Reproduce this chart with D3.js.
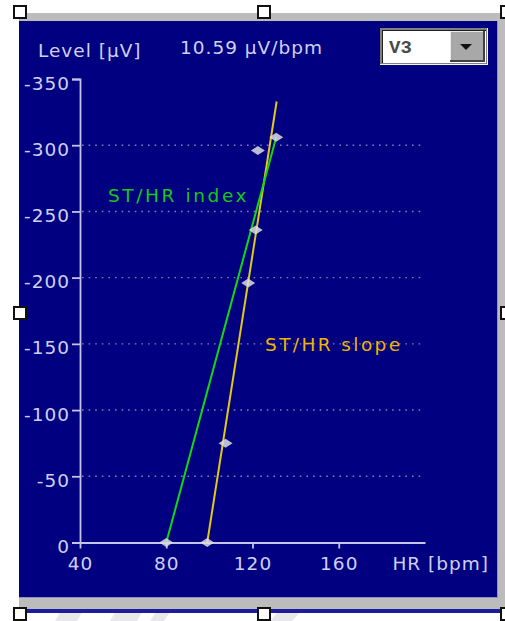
<!DOCTYPE html>
<html>
<head>
<meta charset="utf-8">
<script src="https://cdn.jsdelivr.net/npm/d3@7"></script>
<style>
  html, body { margin: 0; padding: 0; background: #ffffff; }
  svg { display: block; }
</style>
</head>
<body>
<svg id="chart" width="505" height="621"></svg>
<script>
// ---- data ----
const hrPoints    = [80, 99, 107.5, 118, 121.5, 122.5, 131];
const levelPoints = [0, 0, -75, -196, -236, -296, -306];
const indexLineHR    = [80, 131];
const indexLineLevel = [0, -306];
const slopeLineHR    = [99, 131.2];
const slopeLineLevel = [0, -333];
const yTicks = [0, -50, -100, -150, -200, -250, -300, -350];
const gridLevels = [-50, -100, -150, -200, -250, -300];
const xTicks = [40, 80, 120, 160];
const slopeText = "10.59 µV/bpm";
const leadOption = "V3";

const svg = d3.select("#chart");
const sans = "'DejaVu Sans', sans-serif";

// watermark-like faint strokes in white margin
const wm = svg.append("g").attr("fill", "#e8e8e8");
[[10, 575, 18, 607], [55, 607, 85, 621], [110, 607, 145, 621], [150, 609, 172, 621], [270, 612, 300, 621]].forEach(([x0, y0, x1, y1]) => {
  wm.append("path").attr("d", `M${x0},${y1} L${x0 + 8},${y0} L${x1},${y0} L${x1 - 8},${y1} Z`);
});

// frame
svg.append("rect").attr("x", 19).attr("y", 13).attr("width", 486).attr("height", 596).attr("fill", "#bcbcbc");
svg.append("rect").attr("x", 19).attr("y", 609).attr("width", 482).attr("height", 4).attr("fill", "#1c1ca0");
svg.append("rect").attr("x", 19).attr("y", 21).attr("width", 479).attr("height", 577).attr("fill", "#000080");
svg.append("line").attr("x1", 497.5).attr("x2", 497.5).attr("y1", 21).attr("y2", 598).attr("stroke", "#9090c8").attr("stroke-width", 1);
svg.append("line").attr("x1", 19).attr("x2", 498).attr("y1", 597.5).attr("y2", 597.5).attr("stroke", "#9090c8").attr("stroke-width", 1);

// scales
const x = d3.scaleLinear().domain([40, 200]).range([80, 425]);
const y = d3.scaleLinear().domain([0, -350]).range([542.5, 79]);

const axisColor = "#c4c4e8";
const textColor = "#d0d0f2";

// grid
svg.append("g").selectAll("line").data(gridLevels).join("line")
  .attr("x1", x(40) + 2).attr("x2", x(200))
  .attr("y1", d => y(d)).attr("y2", d => y(d))
  .attr("stroke", "#8080b0").attr("stroke-width", 1.4)
  .attr("stroke-dasharray", "1.6,5");

// y axis
const yAxis = svg.append("g").attr("transform", `translate(${x(40)},0)`)
  .call(d3.axisLeft(y).tickValues(yTicks).tickSize(8).tickSizeOuter(8).tickPadding(2).tickFormat(d => String(d)));
yAxis.selectAll("path,line").attr("stroke", axisColor).attr("stroke-width", 1.8);
yAxis.selectAll("text").attr("fill", textColor).style("font-size", "18.5px").style("letter-spacing", "1px")
  .style("font-family", sans).attr("dy", 10);

// x axis
const xAxis = svg.append("g").attr("transform", `translate(0,${y(0)})`)
  .call(d3.axisBottom(x).tickValues(xTicks).tickSize(6).tickSizeOuter(0).tickFormat(d => String(d)));
xAxis.selectAll("path,line").attr("stroke", axisColor).attr("stroke-width", 1.8);
xAxis.selectAll("text").attr("fill", textColor).style("font-size", "18.5px").style("letter-spacing", "1px")
  .style("font-family", sans).attr("y", 27.5).attr("dy", 0);

function label(xp, yp, txt, color, ls, anchor) {
  return svg.append("text").attr("x", xp).attr("y", yp).attr("fill", color)
    .attr("text-anchor", anchor || "start")
    .style("font-family", sans).style("font-size", "18.5px").style("letter-spacing", ls + "px")
    .text(txt);
}

// axis titles
label(38, 57, "Level [µV]", textColor, 1);
label(180, 54, slopeText, textColor, 1);
label(489, 570, "HR [bpm]", textColor, 1, "end");

// lines
const line = d3.line().x(d => x(d[0])).y(d => y(d[1]));
svg.append("path").datum(d3.zip(slopeLineHR, slopeLineLevel)).attr("d", line)
  .attr("fill", "none").attr("stroke", "#e2c818").attr("stroke-width", 2);
svg.append("path").datum(d3.zip(indexLineHR, indexLineLevel)).attr("d", line)
  .attr("fill", "none").attr("stroke", "#12d812").attr("stroke-width", 2);

// points (diamonds)
svg.append("g").selectAll("path").data(d3.zip(hrPoints, levelPoints)).join("path")
  .attr("transform", d => `translate(${x(d[0])},${y(d[1])})`)
  .attr("d", "M-7,0 L0,-4.5 L7,0 L0,4.5 Z")
  .attr("fill", "#dcdce0").attr("fill-opacity", 0.85);

// line labels
label(108, 202, "ST/HR index", "#16c816", 2.6);
label(265, 351, "ST/HR slope", "#f0b400", 2.4);

// dropdown
const dd = svg.append("g");
dd.append("rect").attr("x", 380).attr("y", 28).attr("width", 108).attr("height", 37).attr("fill", "#f4f4f4");
dd.append("rect").attr("x", 380).attr("y", 28).attr("width", 107).attr("height", 36).attr("fill", "#808080");
dd.append("rect").attr("x", 382).attr("y", 30).attr("width", 104).attr("height", 33).attr("fill", "#202020");
dd.append("rect").attr("x", 383).attr("y", 31).attr("width", 103).attr("height", 32).attr("fill", "#ffffff");
dd.append("rect").attr("x", 450).attr("y", 31).attr("width", 35).attr("height", 31).attr("fill", "#404040");
dd.append("rect").attr("x", 450).attr("y", 31).attr("width", 33).attr("height", 29).attr("fill", "#e8e8e8");
dd.append("rect").attr("x", 451).attr("y", 32).attr("width", 32).attr("height", 28).attr("fill", "#a8a8a8");
dd.append("path").attr("d", "M460,44 L472,44 L466,50 Z").attr("fill", "#111");
dd.append("text").attr("x", 389).attr("y", 53)
  .style("font-family", "'Liberation Mono', monospace").style("font-size", "19px").style("font-weight", "bold")
  .attr("fill", "#4a4a4a").text(leadOption);

// selection handles
const handles = [[20, 12], [264, 12], [507, 12], [20, 313], [507, 313], [20, 614], [264, 614], [507, 614]];
svg.append("g").selectAll("rect").data(handles).join("rect")
  .attr("x", d => d[0] - 6).attr("y", d => d[1] - 6).attr("width", 12).attr("height", 12)
  .attr("fill", "#ffffff").attr("stroke", "#111").attr("stroke-width", 2);
</script>
</body>
</html>
